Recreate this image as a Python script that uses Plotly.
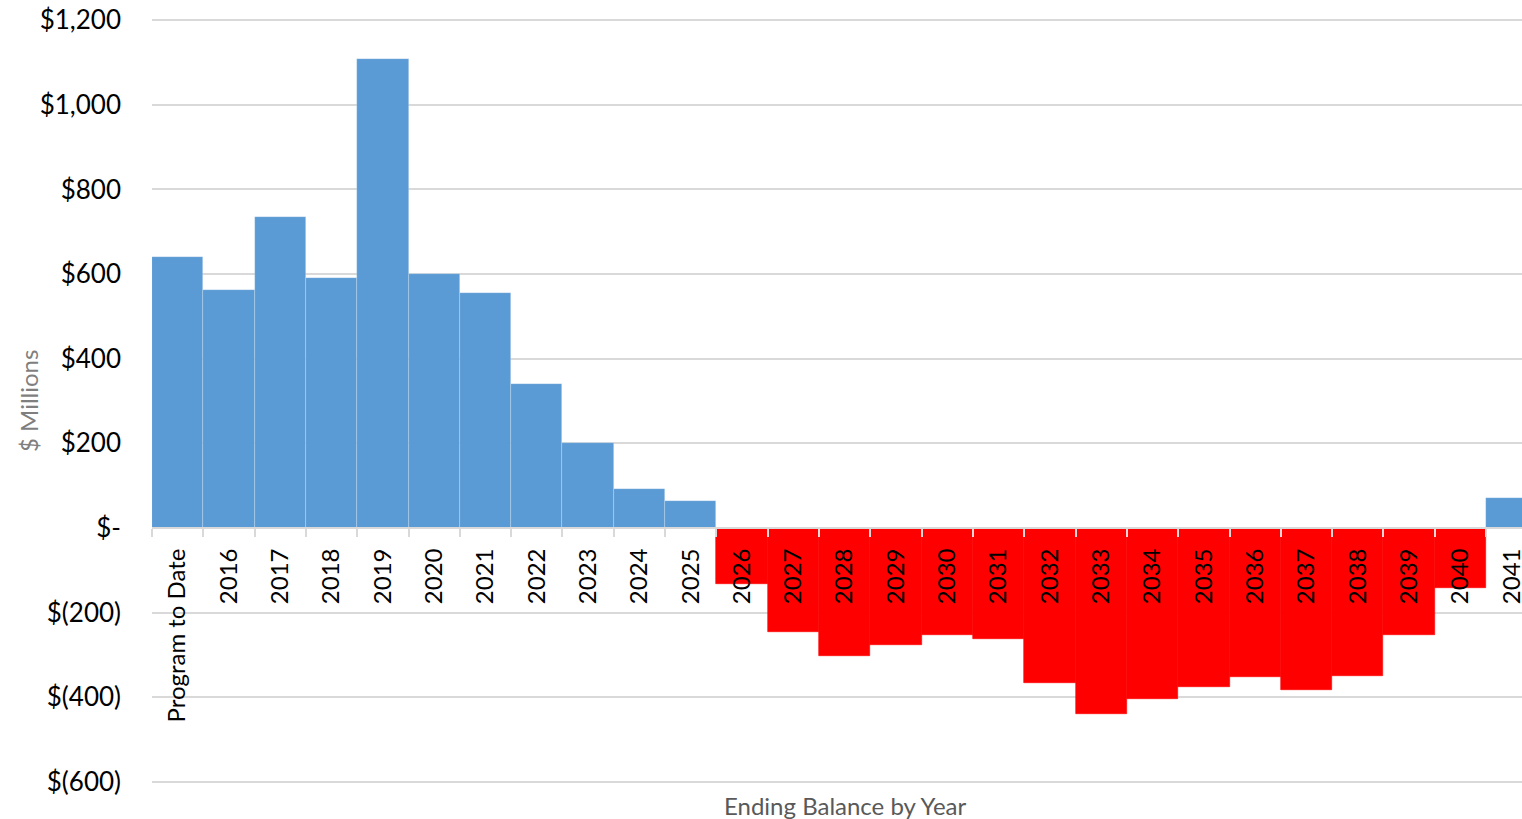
import plotly.graph_objects as go

categories = ["Program to Date", "2016", "2017", "2018", "2019", "2020", "2021", "2022",
              "2023", "2024", "2025", "2026", "2027", "2028", "2029", "2030", "2031",
              "2032", "2033", "2034", "2035", "2036", "2037", "2038", "2039", "2040", "2041"]
balances = [640, 563, 736, 590, 1109, 601, 556, 341, 200, 93, 64,
            -133, -246, -303, -276, -253, -263, -367, -439, -404, -375, -353, -383, -349,
            -254, -141, 70]
ytick_values = [-600, -400, -200, 0, 200, 400, 600, 800, 1000, 1200]
ytick_labels = ["$(600)", "$(400)", "$(200)", "$-", "$200", "$400", "$600", "$800", "$1,000", "$1,200"]

POS = "#5B9BD5"
NEG = "#FE0000"
colors = [POS if v >= 0 else NEG for v in balances]
edge_colors = ["rgba(255,255,255,0.35)" if v >= 0 else NEG for v in balances]

FONT = "Lato"
W, H = 1522, 819
ML, MR, MT, MB = 152, 0, 19, 36
ymin, ymax = -600, 1200
pad = 3
rmin, rmax = ymin - pad, ymax + pad
# the reference crops the last category partway through
x_range = [-0.5, 26.2]

fig = go.Figure(go.Bar(
    x=categories, y=balances,
    marker=dict(color=colors, line=dict(color=edge_colors, width=0.6)),
    hoverinfo="x+y",
))

fig.update_layout(
    width=W, height=H,
    margin=dict(l=ML, r=MR, t=MT, b=MB, autoexpand=False),
    paper_bgcolor="white", plot_bgcolor="white",
    bargap=0,
    showlegend=False,
    font=dict(family=FONT, color="black"),
    xaxis=dict(
        type="category",
        range=x_range,
        anchor="free",
        position=(0 - rmin) / (rmax - rmin),
        automargin=False,
        showline=True, linecolor="#D9D9D9", linewidth=2,
        ticks="outside", tickson="boundaries", ticklen=8, tickcolor="#D9D9D9", tickwidth=1.5,
        tickangle=-90,
        tickfont=dict(family=FONT, size=24, color="black"),
        showgrid=False,
        ticklabelstandoff=10,
    ),
    yaxis=dict(
        range=[rmin, rmax],
        automargin=False,
        tickvals=ytick_values, ticktext=ytick_labels,
        tickfont=dict(family=FONT, size=26, color="black"),
        showgrid=True, gridcolor="#D9D9D9", gridwidth=2,
        zeroline=False, showline=False,
        ticks="", ticklabelstandoff=30,
    ),
    annotations=[
        dict(text="Ending Balance by Year", xref="paper", yref="paper",
             x=(845 - ML) / (W - ML - MR), y=0, yshift=-6, xanchor="center", yanchor="top",
             showarrow=False,
             font=dict(family=FONT, size=24, color="#595959")),
        dict(text="$ Millions", xref="paper", yref="paper",
             x=(28 - ML) / (W - ML - MR), y=0.5, xanchor="center", yanchor="middle",
             textangle=-90, showarrow=False,
             font=dict(family=FONT, size=24, color="#7F7F7F")),
    ],
)

fig.write_html("out.html", config={"displayModeBar": False},
               post_script="document.body.style.margin='0';")
